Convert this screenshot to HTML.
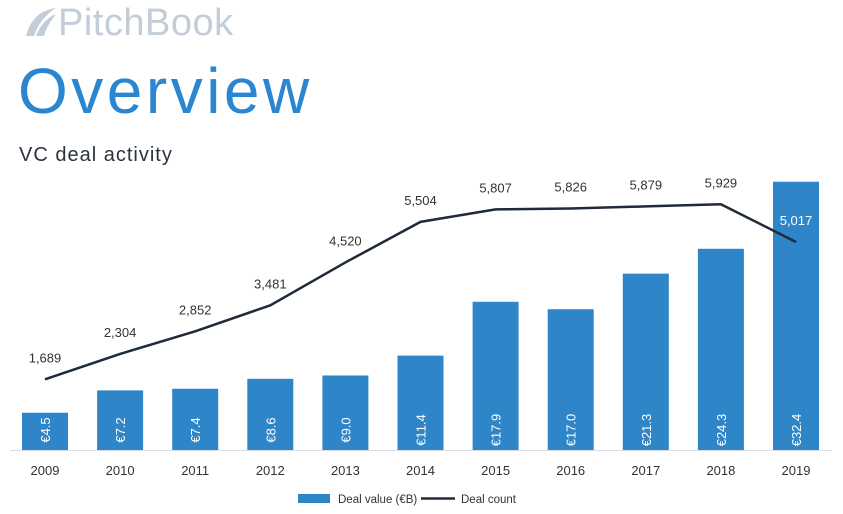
<!DOCTYPE html>
<html><head><meta charset="utf-8"><style>
body{margin:0;width:843px;height:514px;background:#fff;overflow:hidden;font-family:"Liberation Sans",sans-serif;position:relative}
.logo{position:absolute;left:22px;top:2px;font-size:38px;color:#c2cdd9;letter-spacing:0.5px}
.title{position:absolute;left:18px;top:54px;font-size:64px;color:#2a86d0;letter-spacing:3.5px}
.sub{position:absolute;left:19px;top:144px;font-size:20px;color:#2b3340;letter-spacing:1px}
</style></head><body>
<div class="logo"><svg width="36" height="32" viewBox="0 0 36 32" style="vertical-align:-3px"><path d="M4 30 C8 14 18 4 34 2 C24 8 16 18 12 30 Z" fill="#c2cdd9"/><path d="M14 30 C18 20 24 12 34 8 C28 16 24 22 22 30 Z" fill="#c2cdd9"/></svg>PitchBook</div>
<div class="title">Overview</div>
<div class="sub">VC deal activity</div>
<svg id="c" width="843" height="514" style="position:absolute;left:0;top:0"></svg>
<script>
const years=["2009","2010","2011","2012","2013","2014","2015","2016","2017","2018","2019"];
const dealValue=[4.5,7.2,7.4,8.6,9.0,11.4,17.9,17.0,21.3,24.3,32.4];
const dealCount=[1689,2304,2852,3481,4520,5504,5807,5826,5879,5929,5017];
const NS="http://www.w3.org/2000/svg",svg=document.getElementById('c');
function el(t,a,p){const e=document.createElementNS(NS,t);for(const k in a)e.setAttribute(k,a[k]);(p||svg).appendChild(e);return e;}
const xC=i=>45+i*75.1, yV=v=>450-v*8.28, yC=v=>449-v*0.04127;
const axis=el('line',{x1:10,x2:832,y1:450.5,y2:450.5,stroke:'#d9dde3','stroke-width':1});


years.forEach((y,i)=>{
 const r=el('rect',{x:xC(i)-23,y:yV(dealValue[i]),width:46,height:450-yV(dealValue[i]),fill:'#2e86c9'});
 
 
 const cx=xC(i),cy=430;
 const t=el('text',{x:cx,y:cy+5,'text-anchor':'middle','font-size':13,fill:'#fff',transform:`rotate(-90 ${cx} ${cy})`});
 t.textContent='€'+dealValue[i].toFixed(1);
 
 
 const tl=el('text',{x:cx,y:475,'text-anchor':'middle','font-size':13,fill:'#333'});
 tl.textContent=y;
 
 
});
const pts=dealCount.map((v,i)=>xC(i)+','+yC(v)).join(' ');
const pl=el('polyline',{points:pts,fill:'none',stroke:'#1f2a3a','stroke-width':2.5});


dealCount.forEach((v,i)=>{
 const t=el('text',{x:xC(i),y:yC(v)-17,'text-anchor':'middle','font-size':13,fill:i==10?'#fff':'#333'});
 t.textContent=v.toLocaleString('en-US');
 
 
});
const lg=el('rect',{x:298,y:494,width:32,height:9,fill:'#2e86c9'});


const lt=el('text',{x:338,y:503,'font-size':11.5,fill:'#333'});lt.textContent='Deal value (€B)';


const ll=el('line',{x1:421,x2:455,y1:498.5,y2:498.5,stroke:'#1f2a3a','stroke-width':2.5});


const lt2=el('text',{x:461,y:503,'font-size':11.5,fill:'#333'});lt2.textContent='Deal count';


</script>
</body></html>
